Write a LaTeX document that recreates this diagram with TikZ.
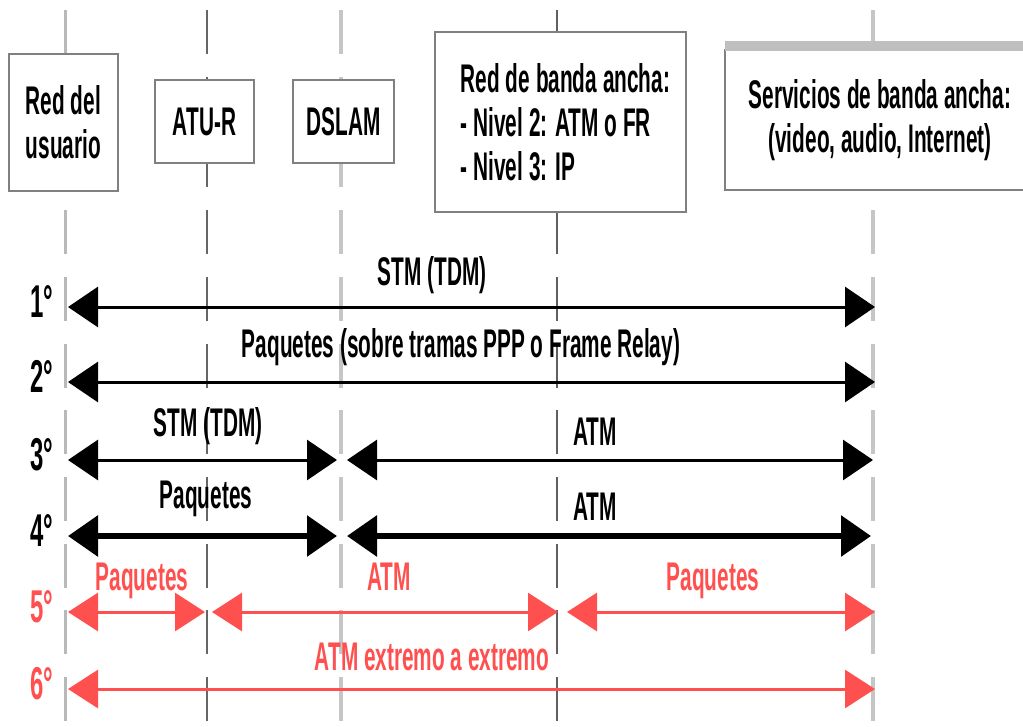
\documentclass[tikz,border=0pt]{standalone}
\usepackage{fontspec}
\setmainfont{Liberation Sans}[FakeStretch=0.52]
\usetikzlibrary{arrows.meta}
\definecolor{redline}{RGB}{255,80,80}
\definecolor{boxgray}{RGB}{128,128,128}
\begin{document}
\begin{tikzpicture}[x=1pt,y=-1pt,
  every node/.style={inner sep=0pt, outer sep=0pt},
  txt/.style={font=\bfseries\fontsize{40}{44}\selectfont},
  rowlbl/.style={font=\bfseries\fontsize{46}{46}\selectfont, anchor=base},
  lifeline/.style={draw=#1, dash pattern=on 44pt off 22.7pt},
  box/.style={draw=boxgray, line width=2.5pt, fill=white, txt},
  bi/.style={line width=3pt, {Triangle[length=30pt,width=40pt]}-{Triangle[length=30pt,width=40pt]}},
  bithick/.style={line width=6pt, {Triangle[length=30pt,width=40pt]}-{Triangle[length=30pt,width=40pt]}},
  bired/.style={redline, line width=3pt, {Triangle[length=30pt,width=38pt]}-{Triangle[length=30pt,width=38pt]}},
]
\useasboundingbox (0,0) rectangle (1023,726);
\fill[white] (0,0) rectangle (1023,726);

% lifelines
\draw[lifeline=gray!55, line width=3pt] (65,10) -- (65,726);
\draw[lifeline=gray!80!black, line width=2pt] (207,10) -- (207,726);
\draw[lifeline=gray!45, line width=4pt] (341,10) -- (341,726);
\draw[lifeline=gray!75!black, line width=2.5pt] (557,10) -- (557,726);
\draw[lifeline=gray!45, line width=4pt] (873,10) -- (873,726);

% top boxes
\node[box, minimum width=109pt, minimum height=137pt, align=center] (usr) at (63.5,122.5) {Red del\\usuario};
\node[box, minimum width=99pt, minimum height=83pt] (atur) at (204.5,121.5) {ATU-R};
\node[box, minimum width=101pt, minimum height=83pt] (dslam) at (343.5,121.5) {DSLAM};
\node[box, minimum width=251pt, minimum height=180pt, align=left] (red) at (560.5,122)
  {\hspace*{10pt}Red de banda ancha:\\\hspace*{10pt}- Nivel 2: ATM o FR\\\hspace*{10pt}- Nivel 3: IP};
\node[box, minimum width=310pt, minimum height=140pt, align=center] (serv) at (880,120) {Servicios de banda ancha:\\(video, audio, Internet)};
\draw[gray!50, line width=10pt] (serv.north west) ++(0,-4) -- ++(300,0);

% row labels
\node[rowlbl] (r1) at (42,317) {1°};
\node[rowlbl] (r2) at (42,392) {2°};
\node[rowlbl] (r3) at (42,470) {3°};
\node[rowlbl] (r4) at (42,546) {4°};
\node[rowlbl, text=redline] (r5) at (42,622) {5°};
\node[rowlbl, text=redline] (r6) at (42,699) {6°};

% arrow end points
\coordinate (a1l) at (68,307);  \coordinate (a1r) at (875,307);
\coordinate (a2l) at (68,382);  \coordinate (a2r) at (875,382);
\coordinate (a3l) at (68,460);  \coordinate (a3m) at (337,460);
\coordinate (a3n) at (347,460); \coordinate (a3r) at (873,460);
\coordinate (a4l) at (68,536);  \coordinate (a4m) at (337,536);
\coordinate (a4n) at (347,536); \coordinate (a4r) at (871,536);
\coordinate (a5l) at (68,612);  \coordinate (a5a) at (205,612);
\coordinate (a5b) at (212,612); \coordinate (a5c) at (558,612);
\coordinate (a5d) at (567,612); \coordinate (a5r) at (875,612);
\coordinate (a6l) at (68,689);  \coordinate (a6r) at (875,689);

% black rows
\draw[bi] (a1l) -- (a1r);
\draw[bi] (a2l) -- (a2r);
\draw[bi] (a3l) -- (a3m);
\draw[bi] (a3n) -- (a3r);
\draw[bithick] (a4l) -- (a4m);
\draw[bithick] (a4n) -- (a4r);

% red rows
\draw[bired] (a5l) -- (a5a);
\draw[bired] (a5b) -- (a5c);
\draw[bired] (a5d) -- (a5r);
\draw[bired] (a6l) -- (a6r);

% row texts
\node[txt, anchor=base] (t1) at (432,285) {STM (TDM)};
\node[txt, anchor=base] (t2) at (461,357) {Paquetes (sobre tramas PPP o Frame Relay)};
\node[txt, anchor=base] (t3a) at (208,436) {STM (TDM)};
\node[txt, anchor=base] (t3b) at (595,445) {ATM};
\node[txt, anchor=base] (t4a) at (206,508) {Paquetes};
\node[txt, anchor=base] (t4b) at (595,520) {ATM};
\node[txt, anchor=base, text=redline] (t5a) at (142,590) {Paquetes};
\node[txt, anchor=base, text=redline] (t5b) at (389,590) {ATM};
\node[txt, anchor=base, text=redline] (t5c) at (713,590) {Paquetes};
\node[txt, anchor=base, text=redline] (t6) at (432,670) {ATM extremo a extremo};
\end{tikzpicture}
\end{document}
